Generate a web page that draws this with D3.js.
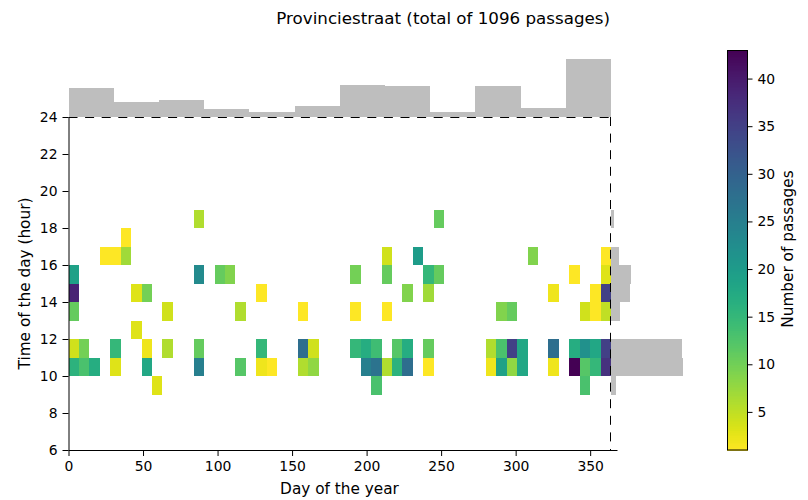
<!DOCTYPE html>
<html><head><meta charset="utf-8">
<script src="https://cdnjs.cloudflare.com/ajax/libs/d3/7.8.5/d3.min.js"></script>
<style>html,body{margin:0;padding:0;background:#fff}svg{display:block}text{font-family:"DejaVu Sans";fill:#000}</style>
</head><body><svg id="c" width="808" height="500"></svg>
<script>
const title = "Provinciestraat (total of 1096 passages)";
const xTicks = [0,50,100,150,200,250,300,350];
const yTicks = [6,8,10,12,14,16,18,20,22,24];
const cbTicks = [5,10,15,20,25,30,35,40];
// [week index, passages] per hour row
const hour9  = [[8,3],[29,13],[49,13]];
const hour10 = [[0,16],[1,13],[2,17],[4,3],[7,18],[12,25],[16,12],[18,2],[19,1],[22,6],[23,8],[28,25],[29,27],[30,6],[31,16],[32,28],[34,1],[40,2],[41,19],[42,8],[43,18],[46,2],[48,43],[49,12],[50,15],[51,37]];
const hour11 = [[0,4],[1,10],[4,15],[7,2],[9,6],[12,11],[18,15],[22,28],[23,4],[27,15],[28,17],[29,14],[31,12],[32,17],[34,11],[40,6],[41,13],[42,35],[43,18],[46,28],[48,17],[49,22],[50,18],[51,35]];
const hour12 = [[6,3]];
const hour13 = [[0,11],[9,4],[16,6],[22,1],[27,1],[30,1],[41,9],[42,11],[49,4],[50,1],[51,5]];
const hour14 = [[0,39],[6,3],[7,10],[18,1],[32,9],[34,7],[46,2],[50,1],[51,35]];
const hour15 = [[0,19],[12,23],[14,11],[15,9],[27,10],[30,11],[34,15],[35,11],[48,1],[51,3]];
const hour16 = [[3,1],[4,1],[5,7],[30,4],[33,20],[44,9],[51,1]];
const hour17 = [[5,1]];
const hour18 = [[12,6],[35,11]];
const hourRows = [[9,hour9],[10,hour10],[11,hour11],[12,hour12],[13,hour13],[14,hour14],[15,hour15],[16,hour16],[17,hour17],[18,hour18]];
const monthTotals = [125,67,74,35,22,48,140,135,22,135,39,253];
const hourBins = [9,10,11,13,14,15,16,18];
const hourTotals = [26,382,376,48,100,106,42,16];

const svg = d3.select("#c");
const x = d3.scaleLinear().domain([0,368]).range([68.5,617]);
const y = d3.scaleLinear().domain([6,24]).range([450,117]);
const color = d3.scaleSequential(t=>d3.interpolateViridis(1-t)).domain([1,43]);
const yearEnd = 364, weekW = yearEnd/52, monthW = yearEnd/12;
const topScale = d3.scaleLinear().domain([0,253]).range([117,59]);
const rightScale = d3.scaleLinear().domain([0,382]).range([x(yearEnd),683]);
const grey = "#bebebe";

// heat cells
const cells = hourRows.flatMap(([h,r])=>r.map(([w,v])=>({h,w,v})));
svg.append("g").attr("shape-rendering","crispEdges").selectAll("rect").data(cells).join("rect")
  .attr("x",d=>x(d.w*weekW)).attr("width",d=>x((d.w+1)*weekW)-x(d.w*weekW))
  .attr("y",d=>y(d.h+1)).attr("height",d=>y(d.h)-y(d.h+1))
  .attr("fill",d=>color(d.v));

// marginal histograms
svg.append("g").attr("shape-rendering","crispEdges").selectAll("rect").data(monthTotals).join("rect")
  .attr("x",(d,i)=>x(i*monthW)).attr("width",x(monthW)-x(0))
  .attr("y",d=>topScale(d)).attr("height",d=>topScale(0)-topScale(d)).attr("fill",grey);
svg.append("g").attr("shape-rendering","crispEdges").selectAll("rect").data(hourTotals).join("rect")
  .attr("x",rightScale(0)).attr("width",d=>rightScale(d)-rightScale(0))
  .attr("y",(d,i)=>y(hourBins[i]+1)).attr("height",(d,i)=>y(hourBins[i])-y(hourBins[i]+1)).attr("fill",grey);

// dashed borders
svg.append("line").attr("x1",x(0)).attr("x2",x(yearEnd)).attr("y1",117.5).attr("y2",117.5)
  .attr("stroke","#000").attr("stroke-width",1).attr("stroke-dasharray","9 7.6");
svg.append("line").attr("x1",610.5).attr("x2",610.5).attr("y1",y(24)).attr("y2",y(6))
  .attr("stroke","#000").attr("stroke-width",1).attr("stroke-dasharray","9 7.6");

// axes
function style(g){
  g.select(".domain").attr("stroke","#000").attr("stroke-width",1);
  g.selectAll(".tick line").attr("stroke","#000").attr("stroke-width",1);
  g.selectAll(".tick text").attr("font-family","DejaVu Sans").attr("font-size",13.9).attr("fill","#000");
}
svg.append("g").attr("transform","translate(0,450)")
  .call(d3.axisBottom(x).tickValues(xTicks).tickSizeOuter(0).tickSizeInner(6).tickPadding(5)).call(style);
svg.append("g").attr("transform","translate(68.5,0)")
  .call(d3.axisLeft(y).tickValues(yTicks).tickSizeOuter(0).tickSizeInner(6).tickPadding(5)).call(style);

svg.append("text").attr("x",610).attr("y",24).attr("text-anchor","end").attr("font-size",16.7).text(title);
svg.append("text").attr("x",339.5).attr("y",494).attr("text-anchor","middle").attr("font-size",15.3).text("Day of the year");
svg.append("text").attr("transform","translate(30,283.5) rotate(-90)").attr("text-anchor","middle").attr("font-size",15.3).text("Time of the day (hour)");

// colorbar
const cb = d3.scaleLinear().domain([1,43]).range([450,50]);
const stops = d3.range(1,43,0.1);
svg.append("g").attr("shape-rendering","crispEdges").selectAll("rect").data(stops).join("rect")
  .attr("x",727).attr("width",20.5).attr("y",d=>cb(d+0.1)).attr("height",d=>cb(d)-cb(d+0.1)+0.5)
  .attr("fill",d=>color(d+0.05));
svg.append("rect").attr("x",727.5).attr("y",50.5).attr("width",20).attr("height",399.5)
  .attr("fill","none").attr("stroke","#000").attr("stroke-width",1);
svg.append("g").attr("transform","translate(747.5,0)")
  .call(d3.axisRight(cb).tickValues(cbTicks).tickSizeOuter(0).tickSizeInner(5).tickPadding(5)).call(style)
  .select(".domain").remove();
svg.append("text").attr("transform","translate(793,249) rotate(-90)").attr("text-anchor","middle").attr("font-size",15.3).text("Number of passages");
</script></body></html>
